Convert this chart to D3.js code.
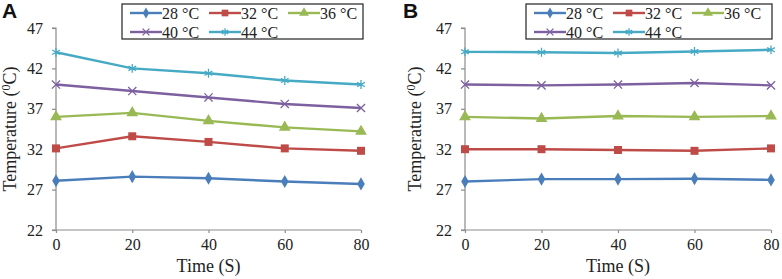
<!DOCTYPE html>
<html>
<head>
<meta charset="utf-8">
<script src="https://cdn.jsdelivr.net/npm/d3@7"></script>
<style>
  body { margin: 0; background: #fff; }
  svg { display: block; }
  svg text { font-family: 'Liberation Serif', 'Times New Roman', serif !important; }
  svg text.letter { font-family: 'Liberation Sans', Arial, sans-serif !important; }
</style>
</head>
<body>
<div id="chart"></div>
<script>
var times = [0, 20, 40, 60, 80];
var seriesNames = ["28 °C", "32 °C", "36 °C", "40 °C", "44 °C"];
var colors = ["#4a7ebb", "#be4b48", "#98b954", "#7d60a0", "#46aac5"];
var yTicks = [22, 27, 32, 37, 42, 47];

// panel A
var valuesA = [
  [28.1, 28.6, 28.4, 28.0, 27.7],
  [32.1, 33.6, 32.9, 32.1, 31.8],
  [36.0, 36.5, 35.5, 34.7, 34.2],
  [40.0, 39.2, 38.4, 37.6, 37.1],
  [44.0, 42.0, 41.4, 40.5, 40.0]
];
// panel B
var valuesB = [
  [28.0, 28.3, 28.3, 28.35, 28.2],
  [32.0, 32.0, 31.9, 31.8, 32.1],
  [36.0, 35.8, 36.1, 36.0, 36.1],
  [40.0, 39.9, 40.0, 40.2, 39.9],
  [44.05, 44.0, 43.9, 44.1, 44.3]
];

var width = 782, height = 279;
var svg = d3.select("#chart").append("svg")
  .attr("width", width).attr("height", height);

var symbolTypes = [d3.symbolDiamond, d3.symbolSquare, d3.symbolTriangle, d3.symbolX, d3.symbolAsterisk];
var symbolSizes = [50, 64, 60, 45, 55];
var strokeSymbol = [false, false, false, true, true];

function marker(g, i, scale) {
  var p = g.append("path")
    .attr("d", d3.symbol().type(symbolTypes[i]).size(symbolSizes[i] * scale)());
  if (strokeSymbol[i]) p.attr("fill", "none").attr("stroke", colors[i]).attr("stroke-width", 1.3);
  else p.attr("fill", colors[i]);
  return p;
}

function panel(letter, values, left, right, letterX, titleX, legBox) {
  var top = 28, bottom = 230;
  var g = svg.append("g");

  var x = d3.scaleLinear().domain([0, 80]).range([left, right]);
  var y = d3.scaleLinear().domain([22, 47]).range([bottom, top]);

  // axes
  var yAxis = g.append("g")
    .attr("transform", "translate(" + left + ",0)")
    .call(d3.axisLeft(y).tickValues(yTicks).tickSize(4).tickPadding(9));
  var xAxis = g.append("g")
    .attr("transform", "translate(0," + bottom + ")")
    .call(d3.axisBottom(x).tickValues(times).tickSize(3).tickPadding(6));
  [yAxis, xAxis].forEach(function(a) {
    a.attr("font-family", null).attr("font-size", null);
    a.select(".domain").attr("stroke", "#8c8c8c").attr("stroke-width", 1.2);
    a.selectAll(".tick line").attr("stroke", "#8c8c8c").attr("stroke-width", 1.2);
    a.selectAll(".tick text").attr("fill", "#222").style("font-size", "16px");
  });
  yAxis.select(".domain").attr("d", "M-4," + top + "H0V" + bottom + "H-4");
  xAxis.select(".domain").attr("d", "M" + left + ",0H" + right);

  // series
  var line = d3.line().x(function(d, i) { return x(times[i]); }).y(function(d) { return y(d); });
  values.forEach(function(vals, s) {
    g.append("path").datum(vals)
      .attr("d", line)
      .attr("fill", "none")
      .attr("stroke", colors[s])
      .attr("stroke-width", 2.4);
    vals.forEach(function(v, i) {
      var m = g.append("g").attr("transform", "translate(" + x(times[i]) + "," + y(v) + ")");
      marker(m, s, 1);
    });
  });

  // panel letter
  g.append("text")
    .attr("class", "letter")
    .attr("x", letterX).attr("y", 18)
    .style("font-weight", "bold").style("font-size", "21px")
    .attr("fill", "#111")
    .text(letter);

  // axis titles
  var yt = g.append("text")
    .attr("transform", "translate(" + titleX + "," + ((top + bottom) / 2) + ") rotate(-90)")
    .attr("text-anchor", "middle")
    .style("font-size", "18px").attr("fill", "#222");
  yt.append("tspan").text("Temperature (");
  yt.append("tspan").attr("dy", -6).style("font-size", "12px").text("0");
  yt.append("tspan").attr("dy", 6).text("C)");

  g.append("text")
    .attr("x", (left + right) / 2).attr("y", 272)
    .attr("text-anchor", "middle")
    .style("font-size", "18px").attr("fill", "#222")
    .text("Time (S)");

  // legend
  var leg = g.append("g");
  leg.append("rect")
    .attr("x", legBox[0]).attr("y", 4)
    .attr("width", legBox[1] - legBox[0]).attr("height", 35)
    .attr("fill", "#fff").attr("stroke", "#222").attr("stroke-width", 1.2);
  var colW = 79;
  seriesNames.forEach(function(name, s) {
    var col = s % 3, row = Math.floor(s / 3);
    var lx = legBox[0] + 8 + col * colW;
    var ly = 13 + row * 19;
    var e = leg.append("g").attr("transform", "translate(" + lx + "," + ly + ")");
    e.append("line").attr("x1", 0).attr("x2", 32).attr("y1", 0).attr("y2", 0)
      .attr("stroke", colors[s]).attr("stroke-width", 2.4);
    marker(e.append("g").attr("transform", "translate(16,0)"), s, 0.7);
    e.append("text").attr("x", 32).attr("y", 5.5)
      .style("font-size", "16px").attr("fill", "#222")
      .text(name);
  });
}

panel("A", valuesA, 56, 361, 2, 16, [122, 363]);
panel("B", valuesB, 465, 771, 403, 421, [526, 772]);
</script>
</body>
</html>
